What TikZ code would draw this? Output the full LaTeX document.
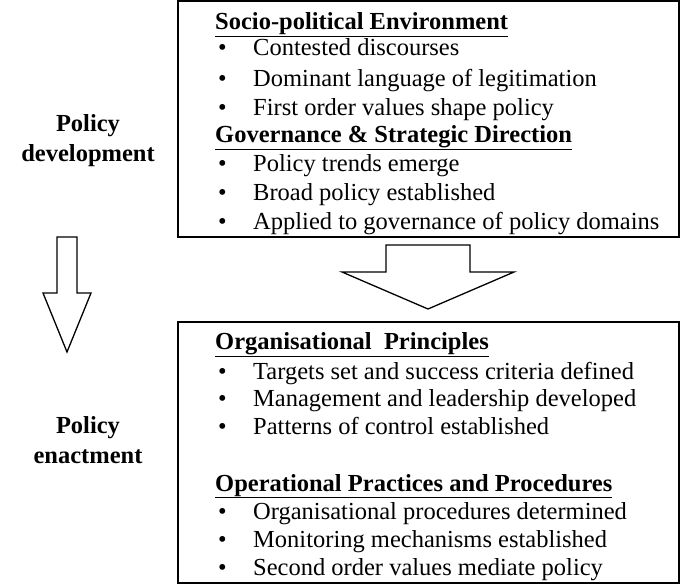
\documentclass[tikz,border=0pt]{standalone}
\usepackage{fontspec}
\setmainfont{Liberation Serif}
\usetikzlibrary{positioning}
\tikzset{
  panel/.style={draw,line width=2pt},
  head/.style={anchor=base west,inner sep=0pt,font=\bfseries},
  item/.style={anchor=base west,inner sep=0pt},
  side/.style={align=center,font=\bfseries,inner sep=0pt},
  hollow/.style={draw,line width=1.3pt,fill=white}
}
\newcommand{\entry}[3]{%
  \node[item] (#1b) at (218,#2) {\textbullet};
  \node[item] (#1) at (253,#2) {#3};}
\begin{document}
\begin{tikzpicture}[x=1pt,y=-1pt]\fontsize{24.5}{28}\selectfont
\useasboundingbox (0,0) rectangle (685,586);
\draw[panel] (178,1) rectangle (679,237);
\draw[panel] (178,322) rectangle (679,583);
% top box
\node[head] (socio) at (215,30) {\underline{Socio-political Environment}};
\entry{t1}{56}{Contested discourses}
\entry{t2}{86}{Dominant language of legitimation}
\entry{t3}{115}{First order values shape policy}
\node[head] (gov) at (215,142) {\underline{Governance \& Strategic Direction}};
\entry{t4}{171}{Policy trends emerge}
\entry{t5}{200}{Broad policy established}
\entry{t6}{229}{Applied to governance of policy domains}
% bottom box
\node[head] (org) at (215,349) {\underline{Organisational\ \ Principles}};
\entry{b1}{379}{Targets set and success criteria defined}
\entry{b2}{406}{Management and leadership developed}
\entry{b3}{434}{Patterns of control established}
\node[head] (ops) at (215,491) {\underline{Operational Practices and Procedures}};
\entry{b4}{519}{Organisational procedures determined}
\entry{b5}{547}{Monitoring mechanisms established}
\entry{b6}{575}{Second order values mediate policy}
% side labels
\node[side] (dev) at (88,141) {Policy\\[2pt]development};
\node[side] (ena) at (88,440) {Policy\\[2pt]enactment};
% arrows
\draw[hollow] (386,245) -- (470,245) -- (470,272) -- (514,272) -- (428,309)
  -- (342,272) -- (386,272) -- cycle;
\draw[hollow] (57,237) -- (77,237) -- (77,293) -- (91,293) -- (67,352)
  -- (43,293) -- (57,293) -- cycle;
\end{tikzpicture}
\end{document}
